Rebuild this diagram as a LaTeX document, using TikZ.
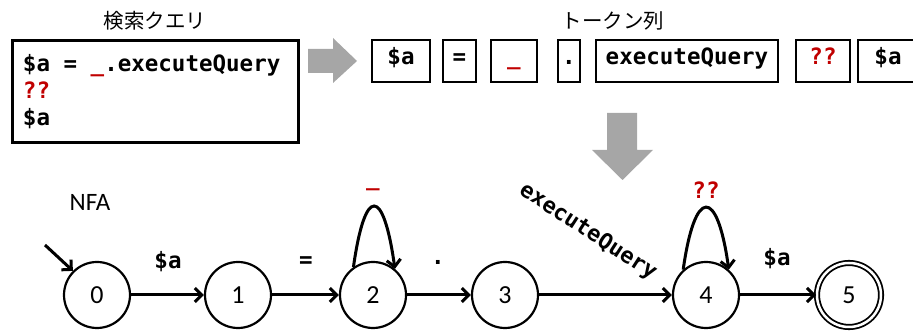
\documentclass[tikz,border=0pt]{standalone}
\usepackage{fontspec}
\setmainfont{Carlito}
\newfontfamily\codefont{DejaVu Sans Mono}
\newfontfamily\jpfont{Noto Sans CJK JP}
\usetikzlibrary{arrows.meta}
\definecolor{accent}{HTML}{C00000}
\definecolor{flowgray}{HTML}{A6A6A6}
% one monospaced character cell of blank space
\newcommand\cspace{\hspace*{0.602em}}

\begin{document}
\begin{tikzpicture}[x=1pt,y=1pt,
  state/.style={circle,draw,line width=2.2pt,minimum size=66pt,inner sep=0pt,
    font=\fontsize{26}{26}\selectfont},
  code/.style={font=\codefont\bfseries\fontsize{22.5}{27}\selectfont},
  tok/.style={draw,line width=2pt,minimum height=42pt,inner sep=0pt,
    text height=14pt,text depth=7pt,code},
  edgelabel/.style={code,inner sep=0pt},
  trans/.style={line width=3pt,
    -{Straight Barb[length=7pt,width=14pt,line width=3pt]}},
  title/.style={font=\jpfont\fontsize{20.5}{20.5}\selectfont},
  arrowfill/.style={fill=flowgray},
]
\useasboundingbox (0,0) rectangle (913,331);

% source query
\node[title] (qtitle) at (155,310) {検索クエリ};
\node[draw,line width=3pt,minimum width=286pt,minimum height=102pt,
  text width=264pt,align=left,inner sep=0pt,code] (query) at (155,239)
  {\$a\cspace=\cspace{\color{accent}\_}.executeQuery\\{\color{accent}??}\\\$a};

% tokenizer step
\fill[arrowfill] (308,282) -- (333,282) -- (333,293) -- (357,270)
  -- (333,248) -- (333,258) -- (308,258) -- cycle;

% token sequence
\node[title] (ttitle) at (613,310) {トークン列};
\node[tok,minimum width=58pt]  (t1) at (401,270)   {\$a};
\node[tok,minimum width=33pt]  (t2) at (459.5,270) {=};
\node[tok,minimum width=46pt]  (t3) at (514,270)   {\color{accent}\_};
\node[tok,minimum width=22pt]  (t4) at (569,270)   {.};
\node[tok,minimum width=182pt] (t5) at (687,270)   {executeQuery};
\node[tok,minimum width=54pt]  (t6) at (823,270)   {\color{accent}??};
\node[tok,minimum width=60pt]  (t7) at (888,270)   {\$a};

% automaton construction step
\fill[arrowfill] (607,218) -- (637,218) -- (637,181) -- (653,181)
  -- (622.5,151) -- (592,181) -- (607,181) -- cycle;

% automaton
\node[font=\fontsize{25}{25}\selectfont] (nfa) at (90,129) {NFA};
\node[state] (s0) at (97,36)  {0};
\node[state] (s1) at (238,36) {1};
\node[state] (s2) at (373,36) {2};
\node[state] (s3) at (505,36) {3};
\node[state] (s4) at (706,36) {4};
\node[state,double,double distance=2.5pt,line width=1.8pt,minimum size=64pt] (s5) at (849,36) {5};

\coordinate (init) at (45,86);
\draw[trans] (init) -- (s0.135);
\draw[trans] (s0) -- (s1);
\draw[trans] (s1) -- (s2);
\draw[trans] (s2) -- (s3);
\draw[trans] (s3) -- (s4);
\draw[trans] (s4) -- (s5);
\draw[trans] (s2.125) to[out=82,in=98,looseness=5.1] (s2.50);
\draw[trans] (s4.132) to[out=82,in=98,looseness=4.7] (s4.48);

\node[edgelabel] (l01) at (168,69) {\$a};
\node[edgelabel] (l12) at (306,69) {=};
\node[edgelabel] (l23) at (438,69) {.};
\node[edgelabel,anchor=base] (l22) at (373,145) {\color{accent}\_};
\node[edgelabel,font=\codefont\bfseries\fontsize{22}{22}\selectfont,rotate=-33]
  (l34) at (588,99) {executeQuery};
\node[edgelabel] (l44) at (706,141) {\color{accent}??};
\node[edgelabel] (l45) at (777,72) {\$a};
\end{tikzpicture}
\end{document}
